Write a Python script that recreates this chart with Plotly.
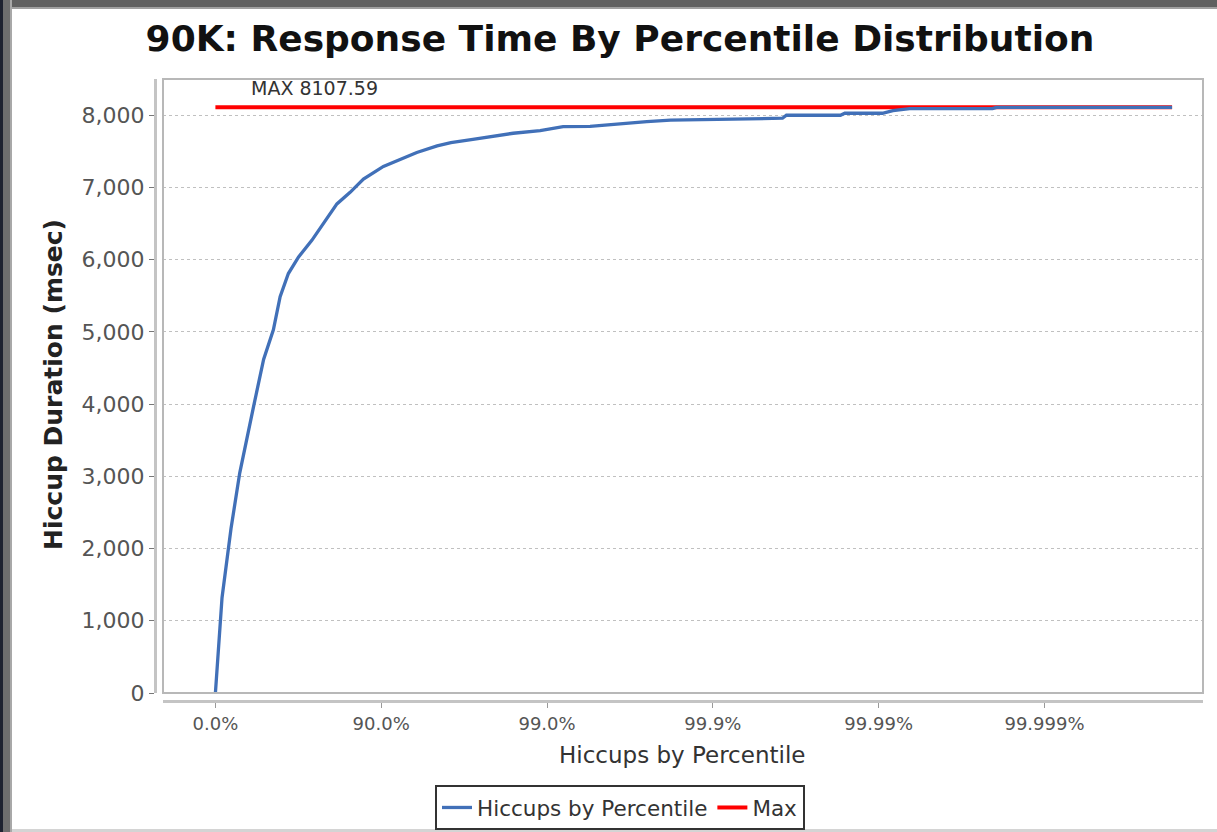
import plotly.graph_objects as go

# ---------------- data ----------------
percentiles = [0, 8.8, 19.5, 28.7, 41.3, 48.8, 55.3, 59.3, 63.7, 68.5,
               73.8, 77.7, 81.5, 84.6, 87.2, 90.3, 92.3, 93.9, 95.4, 96.2,
               97.2, 98.4, 98.9, 99.2, 99.45, 99.60, 99.75, 99.82, 99.88,
               99.90, 99.948, 99.962, 99.964, 99.983, 99.984, 99.9905,
               99.9918, 99.9935, 99.99794, 99.99805, 99.99983]
durations = [0, 1319, 2277, 3048, 3979, 4617, 5028, 5486, 5807, 6037,
             6266, 6495, 6771, 6931, 7115, 7290, 7390, 7482, 7573, 7619,
             7665, 7749, 7785, 7841, 7845, 7874, 7910, 7930, 7935,
             7945, 7950, 7957, 7998, 7998, 8026, 8026,
             8062, 8090, 8090, 8107.59, 8107.59]
MAX_VALUE = 8107.59
max_percentiles = [0, 99.99983]

x_tick_percent = [0, 90, 99, 99.9, 99.99, 99.999]
x_tick_labels = ["0.0%", "90.0%", "99.0%", "99.9%", "99.99%", "99.999%"]
y_ticks = [0, 1000, 2000, 3000, 4000, 5000, 6000, 7000, 8000]

def pct_to_x(p):
    return 1.0 / (1.0 - p / 100.0)

hx = [pct_to_x(p) for p in percentiles]
mx = [pct_to_x(p) for p in max_percentiles]
my = [MAX_VALUE for _ in max_percentiles]
xtv = [pct_to_x(p) for p in x_tick_percent]

# ---------------- layout helpers ----------------
W, H = 1217, 832
L, R, T, B = 155, 14, 79, 131
PW = W - L - R
PH = H - T - B

def px2x(px):
    return (px - L) / PW

def px2y(py):
    return (H - B - py) / PH

FONT = "DejaVu Sans"

fig = go.Figure()
fig.add_trace(go.Scatter(x=mx, y=my, mode="lines", name="Max",
                         line=dict(color="#ff0000", width=4), legendrank=2))
fig.add_trace(go.Scatter(x=hx, y=durations, mode="lines",
                         name="Hiccups by Percentile",
                         line=dict(color="#4170b8", width=3.3), legendrank=1))

shapes = []
# plot frame
shapes.append(dict(type="rect", xref="x domain", yref="y domain", x0=0, x1=1, y0=0, y1=1,
                   line=dict(color="#b8b8b8", width=2), layer="above"))
# screenshot border
def band(x0, x1, y0, y1, color):
    return dict(type="rect", xref="paper", yref="paper",
                x0=px2x(x0), x1=px2x(x1), y0=px2y(y1), y1=px2y(y0),
                fillcolor=color, line=dict(width=0), layer="below")
shapes.append(band(0, W, 0, 7, "#606060"))
shapes.append(band(0, W, 7, 9, "#a0a0a0"))
shapes.append(band(0, W, 829, H, "#d4d4d4"))
shapes.append(band(0, 3, 0, H, "#1e2230"))
shapes.append(band(3, 10, 0, H, "#6e6e6e"))
shapes.append(band(10, 12, 0, H, "#a8a8a8"))

annotations = [
    dict(text="MAX %s" % MAX_VALUE, xref="x", yref="y", x=0.203, y=MAX_VALUE,
         xanchor="left", yanchor="bottom", yshift=6, showarrow=False,
         font=dict(family=FONT, size=19, color="#333333")),
    dict(text="<b>Hiccup Duration (msec)</b>", xref="paper", yref="paper",
         x=px2x(53), y=px2y(385), textangle=-90, xanchor="center", yanchor="middle",
         showarrow=False, font=dict(family=FONT, size=25, color="#222222")),
    dict(text="Hiccups by Percentile", xref="paper", yref="paper",
         x=px2x(682), y=px2y(755), xanchor="center", yanchor="middle",
         showarrow=False, font=dict(family=FONT, size=23, color="#333333")),
]

fig.update_layout(
    width=W, height=H, autosize=False,
    margin=dict(l=L, r=R, t=T, b=B, pad=0, autoexpand=False),
    paper_bgcolor="#ffffff", plot_bgcolor="#ffffff",
    title=dict(text="<b>90K: Response Time By Percentile Distribution</b>",
               x=px2x(620), xref="paper", xanchor="center",
               y=1 - 38 / H, yref="container", yanchor="middle",
               font=dict(family=FONT, size=36, color="#111111")),
    xaxis=dict(type="log", range=[-0.316, 5.956], domain=[8 / PW, 1],
               anchor="free", position=0,
               tickvals=xtv, ticktext=x_tick_labels,
               showgrid=False, zeroline=False,
               showline=True, linecolor="#c4c4c4", linewidth=3,
               ticks="outside", ticklen=5, tickcolor="#999999", tickwidth=1,
               tickfont=dict(family=FONT, size=18, color="#555555")),
    yaxis=dict(range=[0, 8500], domain=[8 / PH, 1],
               anchor="free", position=0,
               tickvals=y_ticks, tickformat=",",
               showgrid=True, gridcolor="#c0c0c0", gridwidth=1, griddash="3px,3px",
               zeroline=False,
               showline=True, linecolor="#c4c4c4", linewidth=3,
               ticks="outside", ticklen=5, tickcolor="#777777", tickwidth=1,
               tickfont=dict(family=FONT, size=22, color="#555555")),
    legend=dict(orientation="h", x=px2x(620), xanchor="center",
                y=px2y(785), yanchor="top",
                bordercolor="#333333", borderwidth=2, bgcolor="#ffffff",
                font=dict(family=FONT, size=21.5, color="#333333"),
                itemwidth=30),
    shapes=shapes,
    annotations=annotations,
)

fig.write_html("out.html", config={"displayModeBar": False},
               post_script="document.body.style.margin='0';document.body.style.overflow='hidden';")
